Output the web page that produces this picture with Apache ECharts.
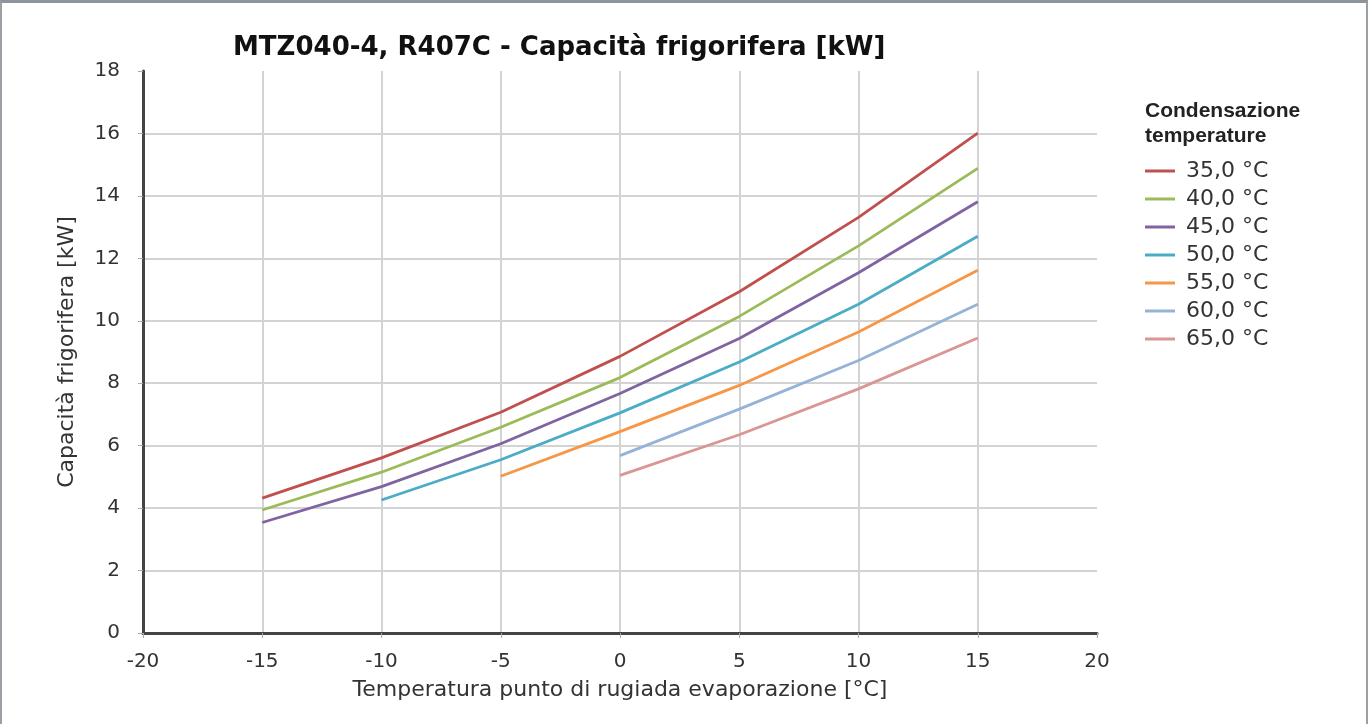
<!DOCTYPE html>
<html>
<head>
<meta charset="utf-8">
<script src="https://cdn.jsdelivr.net/npm/echarts@6/dist/echarts.min.js"></script>
<style>
html, body { margin: 0; padding: 0; background: #fff; }
#frame {
    box-sizing: border-box;
    width: 1368px; height: 724px;
    border-top: 3px solid #8d949b;
    border-left: 2px solid #9aa0a6;
    border-right: 2px solid #9aa0a6;
}
#chart { width: 1364px; height: 721px; }
</style>
</head>
<body>
<div id="frame"><div id="chart"></div></div>
<script>
// evaporating dew point temperature [°C]
const evapTemps = [-15, -10, -5, 0, 5, 10, 15];

// condensing temperatures (legend)
const condLabels = ['35,0 °C', '40,0 °C', '45,0 °C', '50,0 °C', '55,0 °C', '60,0 °C', '65,0 °C'];
const lineColors = ['#c0504d', '#9bbb59', '#8064a2', '#4bacc6', '#f79646', '#95b3d7', '#d99694'];

// cooling capacity [kW], null = outside envelope
const cap35 = [4.32, 5.61, 7.07, 8.86, 10.93, 13.31, 16.01];
const cap40 = [3.94, 5.15, 6.59, 8.18, 10.14, 12.40, 14.88];
const cap45 = [3.54, 4.69, 6.06, 7.67, 9.43, 11.54, 13.81];
const cap50 = [null, 4.26, 5.55, 7.05, 8.68, 10.53, 12.71];
const cap55 = [null, null, 5.02, 6.45, 7.93, 9.64, 11.62];
const cap60 = [null, null, null, 5.68, 7.17, 8.73, 10.53];
const cap65 = [null, null, null, 5.05, 6.35, 7.82, 9.45];

const allCaps = [cap35, cap40, cap45, cap50, cap55, cap60, cap65];

const chart = echarts.init(document.getElementById('chart'));

function pairs(values) {
    const out = [];
    for (let i = 0; i < evapTemps.length; i++) {
        if (values[i] != null) out.push([evapTemps[i], values[i]]);
    }
    return out;
}

const series = allCaps.map((vals, i) => ({
    name: condLabels[i],
    type: 'line',
    data: pairs(vals),
    symbol: 'none',
    lineStyle: { color: lineColors[i], width: 2.8 },
    itemStyle: { color: lineColors[i] },
    animation: false
}));

const labelFont = { color: '#333', fontSize: 20, fontFamily: 'DejaVu Sans' };
const nameFont = { color: '#333', fontSize: 22, fontFamily: 'DejaVu Sans' };

const option = {
    animation: false,
    title: {
        text: 'MTZ040-4, R407C - Capacità frigorifera [kW]',
        left: 226,
        top: 27,
        textStyle: {
            color: '#111',
            fontWeight: 'bold',
            fontSize: 26,
            fontFamily: 'DejaVu Sans'
        }
    },
    graphic: [{
        type: 'text',
        left: 1143,
        top: 96,
        style: {
            text: 'Condensazione\ntemperature',
            fill: '#222',
            font: 'bold 21px Liberation Sans',
            lineHeight: 25
        }
    }],
    legend: {
        orient: 'vertical',
        left: 1138,
        top: 152,
        icon: 'rect',
        itemWidth: 30,
        itemHeight: 3,
        itemGap: 6,
        data: condLabels,
        textStyle: { color: '#333', fontSize: 22, fontFamily: 'DejaVu Sans', lineHeight: 22, padding: [0, 0, 0, 6] }
    },
    grid: {
        left: 141,
        right: 269,
        top: 68,
        bottom: 91,
        containLabel: false
    },
    xAxis: {
        type: 'value',
        min: -20,
        max: 20,
        interval: 5,
        name: 'Temperatura punto di rugiada evaporazione [°C]',
        nameLocation: 'middle',
        nameGap: 46,
        nameTextStyle: nameFont,
        axisLine: { show: true, onZero: false, lineStyle: { color: '#444', width: 3 } },
        axisTick: { show: true, length: 5, lineStyle: { color: '#aaa', width: 1 } },
        axisLabel: Object.assign({ margin: 19 }, labelFont),
        splitLine: { show: true, showMaxLine: false, lineStyle: { color: '#d3d3d3', width: 2 } }
    },
    yAxis: {
        type: 'value',
        min: 0,
        max: 18,
        interval: 2,
        name: 'Capacità frigorifera [kW]',
        nameLocation: 'middle',
        nameGap: 65,
        nameTextStyle: nameFont,
        axisLine: { show: true, onZero: false, lineStyle: { color: '#444', width: 3 } },
        axisTick: { show: true, length: 5, lineStyle: { color: '#aaa', width: 1 } },
        axisLabel: Object.assign({ margin: 23 }, labelFont),
        splitLine: { show: true, showMaxLine: false, lineStyle: { color: '#d3d3d3', width: 2 } }
    },
    series: series
};

chart.setOption(option);
</script>
</body>
</html>
